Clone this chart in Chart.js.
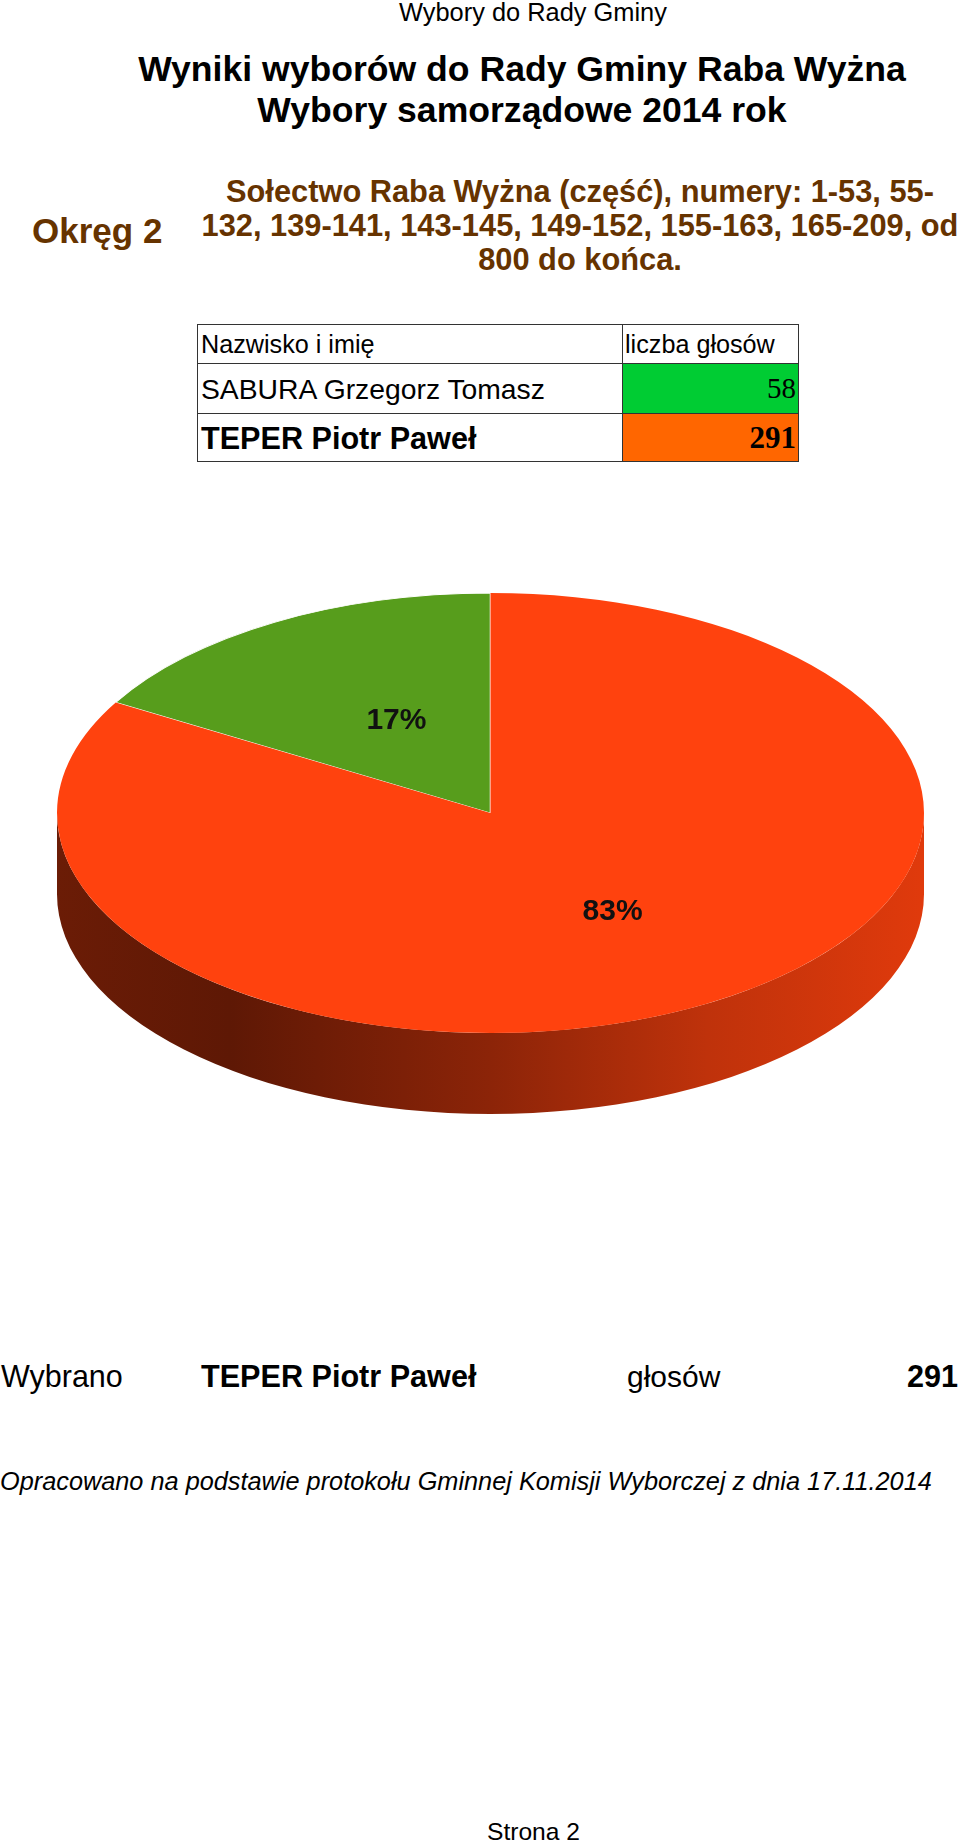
<!DOCTYPE html>
<html lang="pl">
<head>
<meta charset="utf-8">
<title>Wybory do Rady Gminy</title>
<script src="https://cdn.jsdelivr.net/npm/chart.js@4.4.1/dist/chart.umd.min.js"></script>
<style>
    html, body { margin: 0; padding: 0; background: #fff; }
    body {
        width: 960px; height: 1840px; position: relative; overflow: hidden;
        font-family: "Liberation Sans", Arial, sans-serif; color: #000;
    }
    .t { position: absolute; white-space: nowrap; line-height: 1; transform-origin: 0 0; }
    .cell { position: absolute; box-sizing: border-box; border: 1px solid #333; }
    #pieBox { position: absolute; left: 0; top: 580px; width: 960px; height: 560px; }
</style>
</head>
<body>
<div id="pieBox"><canvas id="pieChart" width="960" height="560"></canvas></div>

<script>
// data
const candidates = ["SABURA Grzegorz Tomasz", "TEPER Piotr Paweł"];
const votes = [58, 291];
const sliceColors = ["#579d1c", "#ff420e"];
const cellColors = ["#00cc33", "#ff6600"];
const districtName = "Okręg 2";
const districtLines = [
    "Sołectwo Raba Wyżna (część), numery: 1-53, 55-",
    "132, 139-141, 143-145, 149-152, 155-163, 165-209, od",
    "800 do końca."
];

const BROWN = "#663300";
const SQUASH = 220 / 433.5; // top face of the pie
const DEPTH = 81;

// put a line of text with its baseline at `base`
function addText(str, o) {
    const el = document.createElement("div");
    el.className = "t";
    el.textContent = str;
    el.style.fontSize = o.size + "px";
    if (o.bold) el.style.fontWeight = "bold";
    if (o.italic) el.style.fontStyle = "italic";
    if (o.serif) el.style.fontFamily = '"Liberation Serif", serif';
    if (o.color) el.style.color = o.color;
    el.style.left = o.x + "px";
    el.style.top = (o.base - 0.8465 * o.size) + "px";
    if (o.align === "center") el.style.transform = "translateX(-50%)";
    if (o.align === "right") el.style.transform = "translateX(-100%)";
    document.body.appendChild(el);
}

function addCell(l, t, r, b, bg) {
    const el = document.createElement("div");
    el.className = "cell";
    el.style.left = l + "px";
    el.style.top = t + "px";
    el.style.width = (r - l + 1) + "px";
    el.style.height = (b - t + 1) + "px";
    if (bg) el.style.background = bg;
    document.body.appendChild(el);
}

const total = votes.reduce((a, b) => a + b, 0);
const winner = votes.indexOf(Math.max(...votes));

// headings
addText("Wybory do Rady Gminy", { x: 533, base: 21, size: 25.4, align: "center" });
addText("Wyniki wyborów do Rady Gminy Raba Wyżna", { x: 522, base: 82, size: 35.6, bold: true, align: "center" });
addText("Wybory samorządowe 2014 rok", { x: 522, base: 123.5, size: 35.6, bold: true, align: "center" });
addText(districtName, { x: 32, base: 243, size: 35, bold: true, color: BROWN });
districtLines.forEach((line, i) => {
    addText(line, { x: 580, base: 203 + i * 34, size: 30.8, bold: true, color: BROWN, align: "center" });
});

// results table
const rowTops = [324, 363, 413, 461];
addCell(197, rowTops[0], 622, rowTops[1]);
addCell(622, rowTops[0], 798, rowTops[1]);
addText("Nazwisko i imię", { x: 201, base: 353, size: 25.2 });
addText("liczba głosów", { x: 625, base: 353, size: 25.2 });
candidates.forEach((name, i) => {
    const top = rowTops[i + 1], bottom = rowTops[i + 2];
    const base = i === 0 ? 399 : 448.5;
    const isWinner = i === winner;
    addCell(197, top, 622, bottom);
    addCell(622, top, 798, bottom, cellColors[i]);
    addText(name, { x: 201, base: base, size: isWinner ? 30.6 : 28.3, bold: isWinner });
    addText(String(votes[i]), { x: 796, base: base, size: isWinner ? 31 : 29, bold: isWinner, serif: true, align: "right" });
});

// summary
addText("Wybrano", { x: 1, base: 1387, size: 30.5 });
addText(candidates[winner], { x: 201, base: 1387, size: 30.6, bold: true });
addText("głosów", { x: 627, base: 1387, size: 30 });
addText(String(votes[winner]), { x: 958, base: 1387, size: 30.6, bold: true, align: "right" });
addText("Opracowano na podstawie protokołu Gminnej Komisji Wyborczej z dnia 17.11.2014", { x: 0, base: 1490, size: 25.3, italic: true });
addText("Strona 2", { x: 533.5, base: 1841, size: 24.6, align: "center" });

function shade(hex, f) {
    const n = parseInt(hex.slice(1), 16);
    const r = Math.round(((n >> 16) & 255) * f);
    const g = Math.round(((n >> 8) & 255) * f);
    const b = Math.round((n & 255) * f);
    return `rgb(${r},${g},${b})`;
}

// front part of an angle range (canvas angles, y down)
function frontRanges(s, e) {
    const out = [];
    [-2 * Math.PI, 0, 2 * Math.PI].forEach(off => {
        const a = Math.max(s, off), b = Math.min(e, off + Math.PI);
        if (b > a) out.push([a, b]);
    });
    return out;
}

// squash the pie into an ellipse and give it a side wall
const pie3d = {
    id: "pie3d",
    beforeDatasetsDraw(chart) {
        const ctx = chart.ctx;
        const arcs = chart.getDatasetMeta(0).data;
        const cx = arcs[0].x, cy = arcs[0].y;
        ctx.save();
        ctx.translate(cx, cy);
        ctx.scale(1, SQUASH);
        ctx.translate(-cx, -cy);
        arcs.forEach((arc, i) => {
            const r = arc.outerRadius;
            const grad = ctx.createLinearGradient(cx - r, 0, cx + r, 0);
            grad.addColorStop(0, shade(sliceColors[i], 0.42));
            grad.addColorStop(0.2, shade(sliceColors[i], 0.37));
            grad.addColorStop(0.5, shade(sliceColors[i], 0.55));
            grad.addColorStop(0.75, shade(sliceColors[i], 0.75));
            grad.addColorStop(1, shade(sliceColors[i], 0.88));
            ctx.fillStyle = grad;
            frontRanges(arc.startAngle, arc.endAngle).forEach(([a, b]) => {
                ctx.beginPath();
                ctx.arc(cx, cy, r, a, b);
                ctx.arc(cx, cy + DEPTH / SQUASH, r, b, a, true);
                ctx.closePath();
                ctx.fill();
            });
        });
    },
    afterDatasetsDraw(chart) {
        const ctx = chart.ctx;
        ctx.restore();
        const arcs = chart.getDatasetMeta(0).data;
        const cy = arcs[0].y;
        arcs.forEach((arc, i) => {
            const p = arc.getCenterPoint();
            ctx.save();
            ctx.font = 'bold 30px "Liberation Sans", Arial, sans-serif';
            ctx.textAlign = "center";
            ctx.textBaseline = "middle";
            ctx.fillStyle = "#111";
            ctx.fillText(Math.round(votes[i] / total * 100) + "%", p.x + 14, cy + (p.y - cy) * SQUASH + 3);
            ctx.restore();
        });
    }
};

new Chart(document.getElementById("pieChart").getContext("2d"), {
    type: "pie",
    data: {
        labels: candidates,
        datasets: [{
            data: votes,
            backgroundColor: sliceColors,
            borderColor: "#ffffff",
            borderWidth: [1.5, 0],
            radius: 433.5,
            clip: false
        }]
    },
    options: {
        responsive: false,
        animation: false,
        devicePixelRatio: 1,
        rotation: -360 * votes[0] / total,
        layout: { padding: { left: 21, bottom: 94 } },
        plugins: {
            legend: { display: false },
            tooltip: { enabled: false }
        }
    },
    plugins: [pie3d]
});
</script>
</body>
</html>
